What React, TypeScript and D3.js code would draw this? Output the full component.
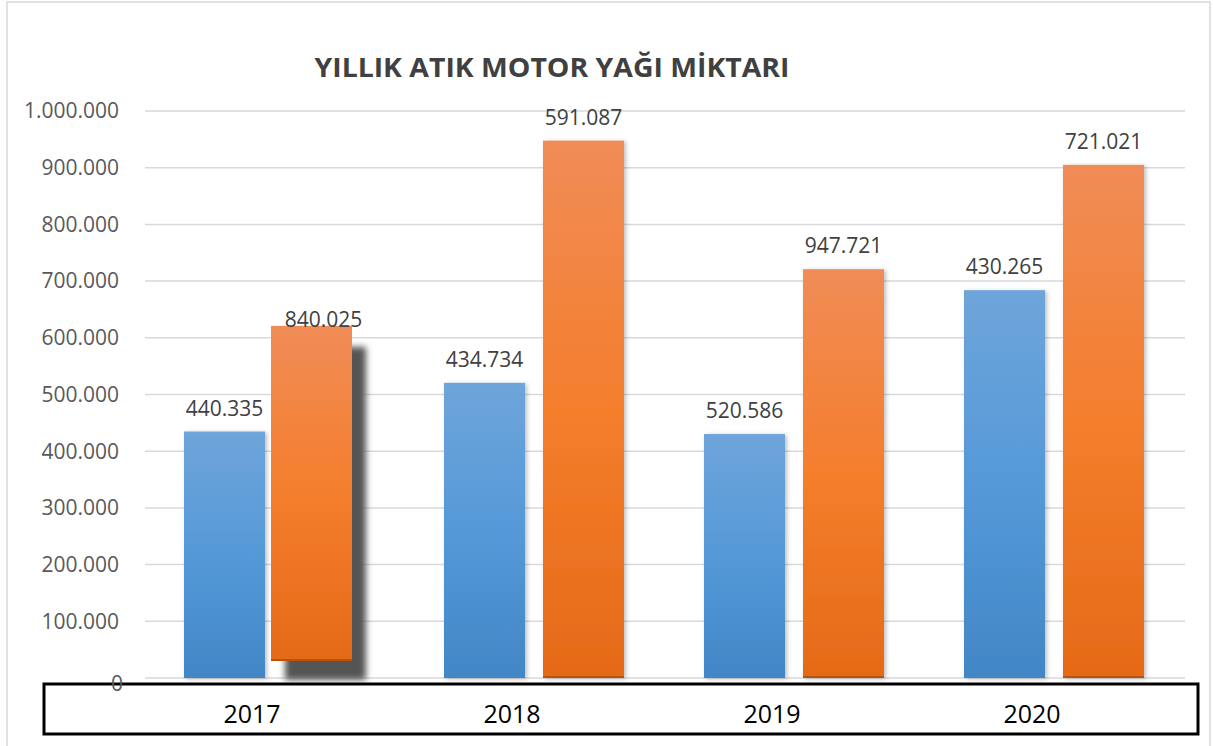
import React from "react";
import * as d3 from "d3";

const years = ["2017", "2018", "2019", "2020"];
const seriesKeys = ["a", "b"];
const blueValues = [434734, 520586, 430265, 684000];
const orangeValues = [591087, 947721, 721021, 905000];
const blueLabels = ["440.335", "434.734", "520.586", "430.265"];
const orangeLabels = ["840.025", "591.087", "947.721", "721.021"];
const yTicks = [0, 100000, 200000, 300000, 400000, 500000, 600000, 700000, 800000, 900000, 1000000];
const title = "YILLIK ATIK MOTOR YAĞI MİKTARI";

const W = 1213;
const H = 746;
const FONT = "'Open Sans', 'Noto Sans', sans-serif";

export default function App() {
  const y = d3.scaleLinear().domain([0, 1000000]).range([678, 111]);
  const x0 = d3.scaleBand<string>().domain(years).range([145, 1185]);
  const x1 = d3
    .scaleBand<string>()
    .domain(seriesKeys)
    .range([39, 219])
    .paddingInner(0.1818);
  const fmt = (v: number) =>
    v === 0 ? "0" : d3.format(",")(v).replace(/,/g, ".");
  const bw = x1.bandwidth();

  return (
    <svg
      width={W}
      height={H}
      style={{ position: "absolute", left: 0, top: 0, background: "#fff" }}
    >
      <defs>
        <linearGradient id="gBlue" x1="0" y1="0" x2="0" y2="1">
          <stop offset="0%" stopColor="#6ea5da" />
          <stop offset="50%" stopColor="#5599d8" />
          <stop offset="100%" stopColor="#4286c6" />
        </linearGradient>
        <linearGradient id="gOrange" x1="0" y1="0" x2="0" y2="1">
          <stop offset="0%" stopColor="#f08c57" />
          <stop offset="50%" stopColor="#f47e2c" />
          <stop offset="100%" stopColor="#e56a17" />
        </linearGradient>
        <filter id="soft" x="-20%" y="-10%" width="140%" height="120%">
          <feDropShadow dx="2" dy="1" stdDeviation="2" floodColor="#000" floodOpacity="0.25" />
        </filter>
        <filter id="blurShadow" x="-30%" y="-10%" width="160%" height="120%">
          <feGaussianBlur stdDeviation="3" />
        </filter>
      </defs>

      {/* outer chart border */}
      <rect x={7} y={2} width={1203} height={800} fill="none" stroke="#d9d9d9" strokeWidth={1.5} />

      {/* title */}
      <text
        x={552}
        y={77}
        textAnchor="middle"
        fontFamily={FONT}
        fontWeight={700}
        fontSize={26}
        fill="#404040"
        textLength={475}
        lengthAdjust="spacingAndGlyphs"
      >
        {title}
      </text>

      {/* gridlines */}
      {yTicks.map((t) => (
        <line
          key={"g" + t}
          x1={145}
          x2={1185}
          y1={y(t)}
          y2={y(t)}
          stroke="#d9d9d9"
          strokeWidth={1.5}
        />
      ))}

      {/* bars */}
      {years.map((yr, i) => {
        const gx = x0(yr)!;
        const bx = gx + x1("a")!;
        const ox = gx + x1("b")!;
        const lifted = i === 0;
        const oTop = y(orangeValues[i]);
        const oH = y(0) - oTop;
        return (
          <g key={yr}>
            <rect
              x={bx}
              y={y(blueValues[i])}
              width={bw}
              height={y(0) - y(blueValues[i])}
              fill="url(#gBlue)"
              filter="url(#soft)"
            />
            {lifted ? (
              <g>
                <rect
                  x={ox + 2}
                  y={oTop + 4}
                  width={bw}
                  height={oH - 2}
                  fill="#555"
                  filter="url(#blurShadow)"
                />
                <g transform="translate(-12,-17)">
                  <rect x={ox} y={oTop} width={bw} height={oH} fill="url(#gOrange)" />
                  <rect x={ox} y={y(0) - 2} width={bw} height={2} fill="#b8520f" />
                </g>
              </g>
            ) : (
              <g>
                <rect x={ox} y={oTop} width={bw} height={oH} fill="url(#gOrange)" filter="url(#soft)" />
                <rect x={ox} y={y(0) - 2} width={bw} height={2} fill="#b8520f" />
              </g>
            )}
            <text
              x={bx + bw / 2}
              y={y(blueValues[i]) - 16}
              textAnchor="middle"
              fontFamily={FONT}
              fontSize={21}
              fill="#404040"
            >
              {blueLabels[i]}
            </text>
            <text
              x={ox + bw / 2}
              y={oTop - 16}
              textAnchor="middle"
              fontFamily={FONT}
              fontSize={21}
              fill="#404040"
            >
              {orangeLabels[i]}
            </text>
          </g>
        );
      })}

      {/* category box */}
      <rect x={44} y={684} width={1154} height={50} fill="#fff" stroke="#000" strokeWidth={3} />
      {years.map((yr) => (
        <text
          key={"c" + yr}
          x={x0(yr)! + x0.bandwidth() / 2 - 23}
          y={723}
          textAnchor="middle"
          fontFamily={FONT}
          fontSize={25}
          fill="#000"
        >
          {yr}
        </text>
      ))}

      {/* y tick labels */}
      {yTicks.map((t) => (
        <text
          key={"t" + t}
          x={t === 0 ? 123 : 119}
          y={t === 0 ? y(t) + 6 : y(t)}
          dy="0.35em"
          textAnchor="end"
          fontFamily={FONT}
          fontSize={21}
          fill="#595959"
        >
          {fmt(t)}
        </text>
      ))}
    </svg>
  );
}
